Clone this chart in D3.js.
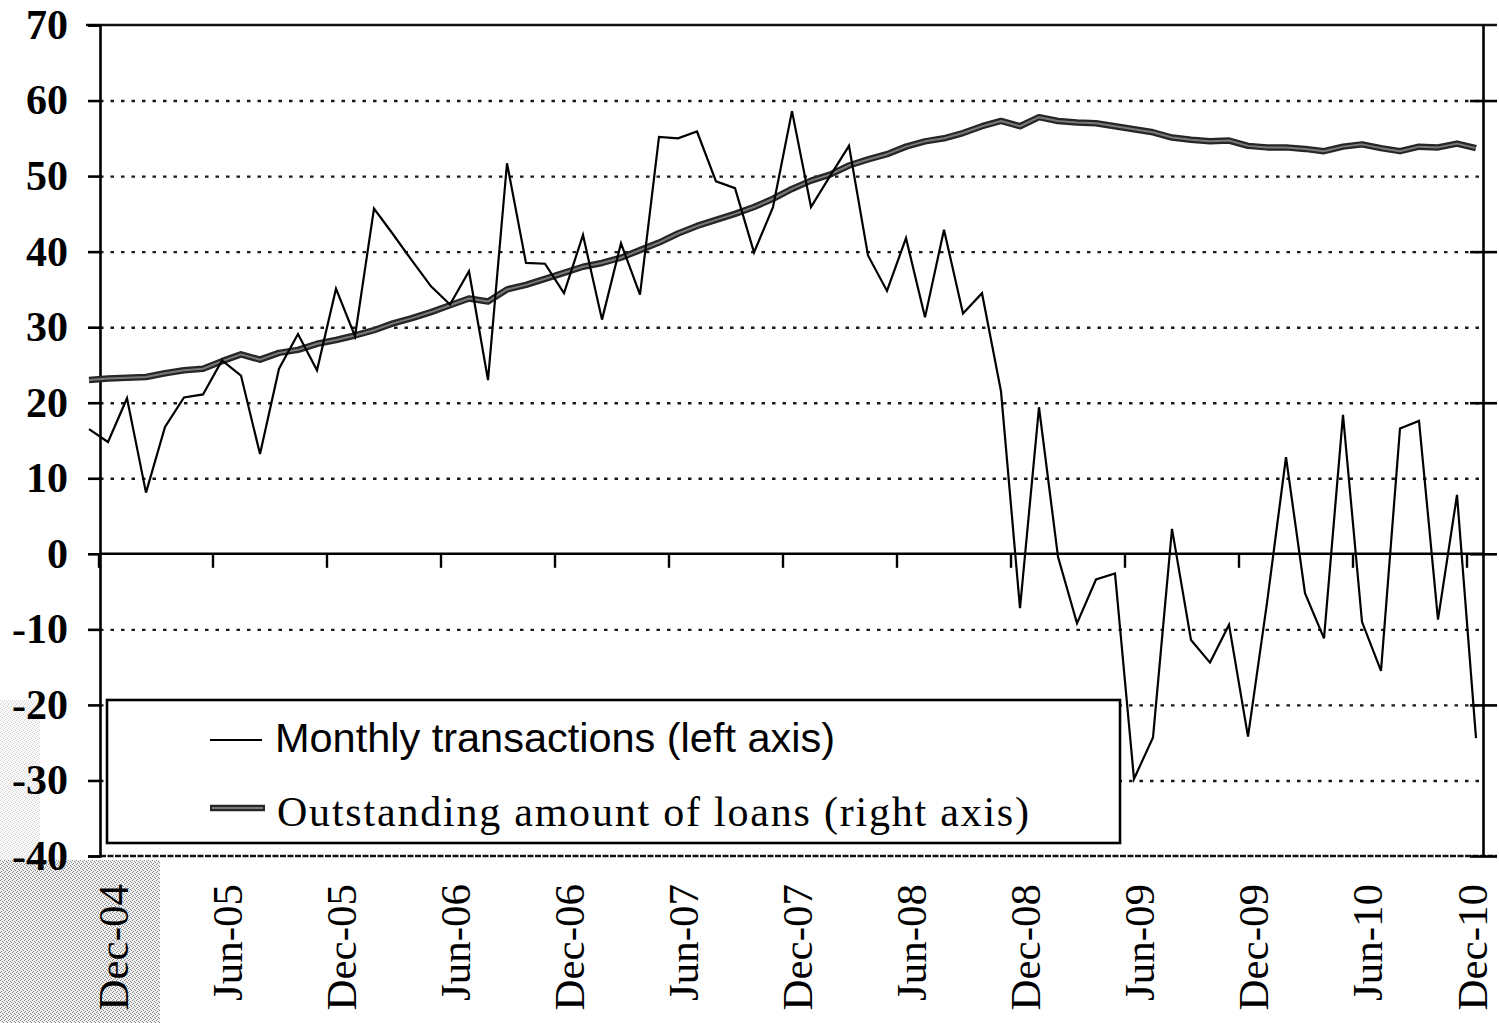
<!DOCTYPE html>
<meta charset="utf-8"/>
<style>
  body { margin: 0; background: #fff; }
  svg { display: block; }
</style>
<svg width="1499" height="1023"></svg>

<script src="https://d3js.org/d3.v7.min.js" charset="utf-8"></script>
<script>

// monthly points, Nov-04 .. Dec-10 (74 months)
var transactions = [
  16.5, 14.8, 20.6,  8.1, 16.8, 20.7, 21.1, 25.6, 23.6, 13.2,
  24.5, 29.1, 24.3, 35.1, 28.8, 45.7, 42.3, 38.8, 35.4, 33.0,
  37.4, 23.0, 51.7, 38.5, 38.4, 34.5, 42.2, 31.0, 41.1, 34.3,
  55.2, 55.0, 55.9, 49.3, 48.4, 39.9, 45.9, 58.6, 45.9, 50.0,
  54.0, 39.5, 34.8, 41.8, 31.3, 42.9, 31.8, 34.5, 21.5, -7.2,
  19.4, -0.4, -9.2, -3.4, -2.6, -29.8, -24.3, 3.3, -11.4, -14.4,
  -9.4, -24.2, -6.5, 12.8, -5.2, -11.2, 18.4, -9.0, -15.5, 16.6,
  17.6, -8.7, 7.8, -24.4
];

var outstanding = [
  23.0, 23.2, 23.3, 23.4, 23.9, 24.3, 24.5, 25.5, 26.4, 25.7,
  26.6, 27.0, 27.8, 28.3, 28.9, 29.6, 30.5, 31.2, 32.0, 32.9,
  33.8, 33.4, 35.0, 35.6, 36.4, 37.2, 38.0, 38.5, 39.2, 40.2,
  41.2, 42.4, 43.4, 44.2, 45.0, 45.9, 47.0, 48.3, 49.4, 50.2,
  51.4, 52.2, 52.9, 53.9, 54.6, 55.0, 55.7, 56.6, 57.3, 56.6,
  57.8, 57.3, 57.1, 57.0, 56.6, 56.2, 55.8, 55.1, 54.8, 54.6,
  54.7, 54.0, 53.8, 53.8, 53.6, 53.3, 53.9, 54.2, 53.7, 53.3,
  53.9, 53.8, 54.3, 53.7
];

// one label every 6 months, first one on point 1 (Dec-04)
var tickLabels = ["Dec-04","Jun-05","Dec-05","Jun-06","Dec-06","Jun-07","Dec-07",
                  "Jun-08","Dec-08","Jun-09","Dec-09","Jun-10","Dec-10"];
var yTicks = [-40,-30,-20,-10,0,10,20,30,40,50,60,70];
var rightTicks = [-40,-20,0,20,40,60];
var legendLabels = ["Monthly transactions (left axis)",
                    "Outstanding amount of loans (right axis)"];

var svg = d3.select("svg");

var plotLeft = 100, plotRight = 1483, plotTop = 25, plotBottom = 856;

var x = d3.scaleLinear().domain([0, transactions.length - 1]).range([89, 1476]);
var y = d3.scaleLinear().domain([-40, 70]).range([plotBottom, plotTop]);
// right axis: its labels are cut off in the scan, same vertical placement
var yRight = y.copy();

// scan grain in the lower left corner
var defs = svg.append("defs");
var pat = defs.append("pattern").attr("id", "grain")
    .attr("width", 4).attr("height", 4).attr("patternUnits", "userSpaceOnUse");
pat.append("rect").attr("width", 4).attr("height", 4).attr("fill", "#efefef");
[[0,0],[2,1],[1,3],[3,2]].forEach(function(p) {
  pat.append("rect").attr("x", p[0]).attr("y", p[1]).attr("width", 1).attr("height", 1).attr("fill", "#8a8a8a");
});
svg.append("rect").attr("x", 0).attr("y", 860).attr("width", 160).attr("height", 163)
    .attr("fill", "url(#grain)");
svg.append("rect").attr("x", 0).attr("y", 700).attr("width", 40).attr("height", 160)
    .attr("fill", "url(#grain)").attr("opacity", 0.35);

// dotted gridlines
svg.append("g")
    .attr("transform", "translate(" + plotLeft + ",0)")
    .call(d3.axisLeft(y)
        .tickValues(yTicks.filter(function(v) { return v > -40 && v < 70 && v != 0; }))
        .tickSize(-(plotRight - plotLeft)).tickFormat(""))
    .call(function(g) { g.select(".domain").remove(); })
    .selectAll("line")
    .attr("stroke", "#1a1a1a").attr("stroke-width", 2.4).attr("stroke-dasharray", "3.5,7");

// top and bottom frame
svg.append("line")
    .attr("x1", 86).attr("x2", 1497).attr("y1", y(70)).attr("y2", y(70))
    .attr("stroke", "#111").attr("stroke-width", 2.4);
svg.append("line")
    .attr("x1", plotLeft).attr("x2", 1497).attr("y1", y(-40)).attr("y2", y(-40))
    .attr("stroke", "#111").attr("stroke-width", 2.6).attr("stroke-dasharray", "6,1.5");

// zero line with month ticks
var xAxis = svg.append("g")
    .attr("transform", "translate(0," + y(0) + ")")
    .call(d3.axisBottom(x)
        .tickValues(tickLabels.map(function(d, i) { return 0.5 + 6 * i; }))
        .tickSize(14).tickSizeOuter(0).tickFormat(""));
xAxis.select(".domain").remove();
xAxis.selectAll("line").attr("stroke", "#000").attr("stroke-width", 2.4);
xAxis.append("line")
    .attr("x1", plotLeft).attr("x2", plotRight)
    .attr("stroke", "#000").attr("stroke-width", 2.6);

// left axis
var yAxis = svg.append("g")
    .attr("transform", "translate(" + plotLeft + ",0)")
    .call(d3.axisLeft(y).tickValues(yTicks).tickSize(12).tickPadding(20)
        .tickFormat(function(d) { return String(d); }));
yAxis.selectAll("line, path").attr("stroke", "#000").attr("stroke-width", 2.6);
yAxis.selectAll("text")
    .attr("font-family", "Liberation Serif, serif")
    .attr("font-weight", "bold")
    .attr("font-size", 42)
    .attr("fill", "#000");

// right axis, ticks crossing the line
var rAxis = svg.append("g")
    .attr("transform", "translate(" + plotRight + ",0)")
    .call(d3.axisRight(yRight).tickValues(rightTicks).tickSize(14).tickSizeOuter(0).tickFormat(""));
rAxis.selectAll(".tick line").attr("x1", -13);
rAxis.selectAll("line, path").attr("stroke", "#000").attr("stroke-width", 2.6);

// series
var line = d3.line()
    .x(function(d, i) { return x(i); })
    .y(function(d) { return y(d); });
var lineR = d3.line()
    .x(function(d, i) { return x(i); })
    .y(function(d) { return yRight(d); });

svg.append("path").datum(outstanding)
    .attr("d", lineR).attr("fill", "none")
    .attr("stroke", "#262626").attr("stroke-width", 6.5).attr("stroke-linejoin", "round");
svg.append("path").datum(outstanding)
    .attr("d", lineR).attr("fill", "none")
    .attr("stroke", "#7a7a7a").attr("stroke-width", 2).attr("stroke-linejoin", "round");

svg.append("path").datum(transactions)
    .attr("d", line).attr("fill", "none")
    .attr("stroke", "#000").attr("stroke-width", 2.2).attr("stroke-linejoin", "miter");

// x labels, rotated (last one held inside the picture)
svg.append("g").selectAll("text")
    .data(tickLabels)
    .join("text")
    .attr("transform", function(d, i) {
      return "translate(" + Math.min(x(1 + 6 * i) + 6, 1473) + ",884) rotate(-90)";
    })
    .attr("text-anchor", "end")
    .attr("dy", "0.33em")
    .attr("font-family", "Liberation Serif, serif")
    .attr("font-size", 43)
    .attr("fill", "#000")
    .text(function(d) { return d; });

// legend
var legend = svg.append("g");
legend.append("rect")
    .attr("x", 107).attr("y", 700).attr("width", 1013).attr("height", 143)
    .attr("fill", "#fff").attr("stroke", "#000").attr("stroke-width", 2.6);

legend.append("line")
    .attr("x1", 210).attr("x2", 262).attr("y1", 740).attr("y2", 740)
    .attr("stroke", "#000").attr("stroke-width", 2);
legend.append("text")
    .attr("x", 275).attr("y", 752)
    .attr("font-family", "Liberation Sans Narrow, Liberation Sans, Arial, sans-serif")
    .attr("font-size", 40)
    .attr("textLength", 560).attr("lengthAdjust", "spacingAndGlyphs")
    .text(legendLabels[0]);

legend.append("line")
    .attr("x1", 210).attr("x2", 265).attr("y1", 808).attr("y2", 808)
    .attr("stroke", "#262626").attr("stroke-width", 6.5);
legend.append("line")
    .attr("x1", 212).attr("x2", 263).attr("y1", 808).attr("y2", 808)
    .attr("stroke", "#7a7a7a").attr("stroke-width", 2);
legend.append("text")
    .attr("x", 277).attr("y", 826)
    .attr("font-family", "Liberation Serif, serif")
    .attr("font-size", 42)
    .attr("textLength", 752).attr("lengthAdjust", "spacing")
    .text(legendLabels[1]);

</script>
